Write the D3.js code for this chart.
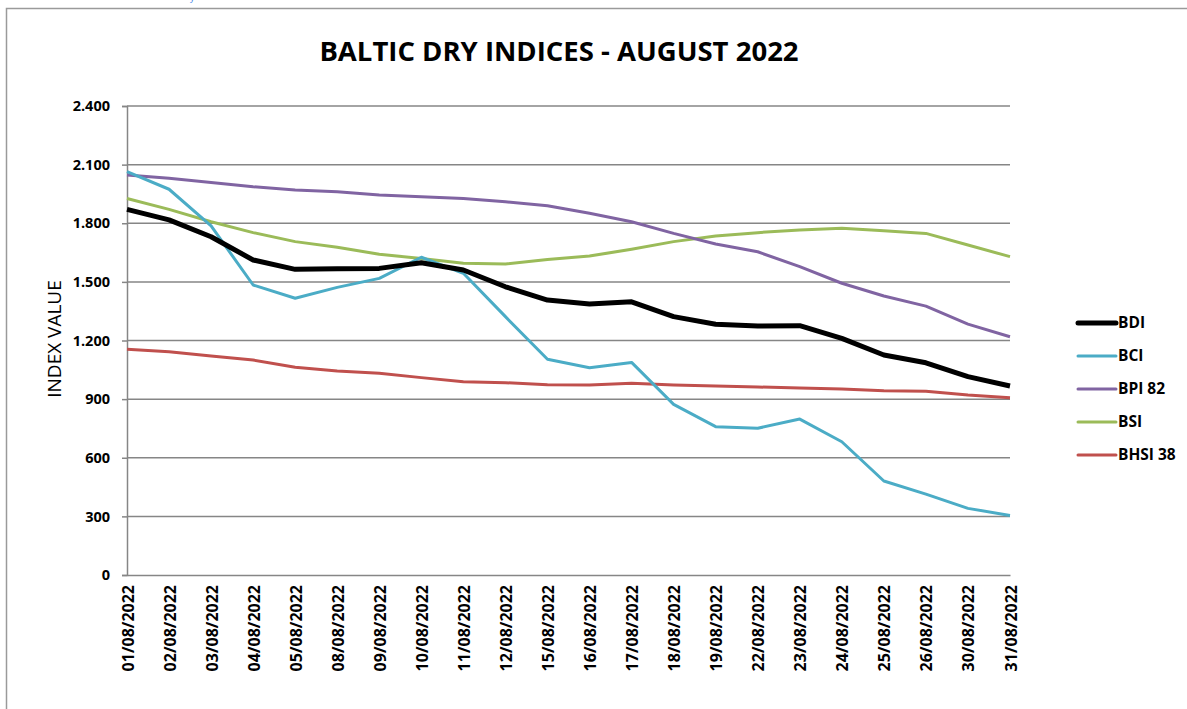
<!DOCTYPE html>
<html>
<head>
<meta charset="utf-8">
<script src="https://cdn.jsdelivr.net/npm/d3@7"></script>
<style>
  body { margin: 0; background: #fff; }
  svg { display: block; }
</style>
</head>
<body>
<div id="chart"></div>
<script>
// dates on the category axis
const dates = ["01/08/2022","02/08/2022","03/08/2022","04/08/2022","05/08/2022","08/08/2022",
  "09/08/2022","10/08/2022","11/08/2022","12/08/2022","15/08/2022","16/08/2022","17/08/2022",
  "18/08/2022","19/08/2022","22/08/2022","23/08/2022","24/08/2022","25/08/2022","26/08/2022",
  "30/08/2022","31/08/2022"];

const bdi  = [1871,1817,1731,1612,1564,1567,1569,1598,1561,1475,1407,1387,1398,1322,1283,1274,1276,1211,1126,1086,1015,967];
const bci  = [2064,1974,1786,1484,1416,1472,1518,1626,1544,1322,1104,1061,1088,873,759,751,798,682,481,414,341,305];
const bpi  = [2047,2030,2009,1987,1970,1961,1944,1936,1927,1910,1890,1851,1808,1748,1694,1654,1578,1493,1428,1376,1284,1219];
const bsi  = [1927,1871,1808,1752,1706,1677,1641,1620,1595,1591,1615,1632,1667,1706,1735,1752,1765,1774,1762,1748,1689,1629];
const bhsi = [1155,1143,1121,1100,1063,1044,1032,1010,989,984,974,972,981,972,967,962,957,952,943,940,921,907];

const yTicks = [0,300,600,900,1200,1500,1800,2100,2400];

const series = [
  { name: "BDI",     values: bdi,  color: "#000000", width: 5 },
  { name: "BCI",     values: bci,  color: "#4BACC6", width: 3 },
  { name: "BPI 82",  values: bpi,  color: "#8064A2", width: 3 },
  { name: "BSI",     values: bsi,  color: "#9BBB59", width: 3 },
  { name: "BHSI 38", values: bhsi, color: "#C0504D", width: 3 }
];

const width = 1187, height = 709;
const plotLeft = 127, plotRight = 1010, plotTop = 106, plotBottom = 575;

const svg = d3.select("#chart").append("svg")
  .attr("width", width).attr("height", height);

// outer chart frame (runs off the page right / bottom)
svg.append("rect")
  .attr("x", 6.5).attr("y", 8.5)
  .attr("width", 1300).attr("height", 800)
  .attr("fill", "none").attr("stroke", "#9a9a9a").attr("stroke-width", 1.5);

// little blue glyph peeking in at the very top
svg.append("text")
  .attr("x", 190).attr("y", 1)
  .attr("fill", "#4a86e8").style("font", "9px 'Open Sans'")
  .text("y");

const x = d3.scalePoint().domain(dates).range([plotLeft, plotRight]);
const y = d3.scaleLinear().domain([0, 2400]).range([plotBottom, plotTop]);

const fmt = d3.formatLocale({ decimal: ",", thousands: ".", grouping: [3], currency: ["", ""] }).format(",d");

// gridlines
svg.append("g")
  .selectAll("line")
  .data(yTicks.filter(d => d > 0))
  .join("line")
  .attr("x1", plotLeft).attr("x2", plotRight)
  .attr("y1", d => y(d)).attr("y2", d => y(d))
  .attr("stroke", "#868686").attr("stroke-width", 1.5);

// y axis
const yAxis = svg.append("g")
  .attr("transform", `translate(${plotLeft},0)`)
  .call(d3.axisLeft(y).tickValues(yTicks).tickFormat(fmt).tickSize(5).tickPadding(12));
yAxis.select(".domain").attr("stroke", "#868686").attr("stroke-width", 1.5);
yAxis.selectAll(".tick line").attr("stroke", "#868686").attr("stroke-width", 1.5);
yAxis.selectAll("text")
  .attr("fill", "#000")
  .style("font", "bold 14.5px 'Open Sans'");

// x axis
const xAxis = svg.append("g")
  .attr("transform", `translate(0,${plotBottom})`)
  .call(d3.axisBottom(x).tickSize(0).tickPadding(0));
xAxis.select(".domain").attr("stroke", "#868686").attr("stroke-width", 1.5);
xAxis.selectAll("text")
  .attr("fill", "#000")
  .style("font", "bold 16px 'Open Sans'")
  .attr("text-anchor", "end")
  .attr("dy", null)
  .attr("transform", "translate(6,10) rotate(-90)");

// lines
const line = d3.line()
  .x((d, i) => x(dates[i]))
  .y(d => y(d));

svg.append("g")
  .selectAll("path")
  .data(series.slice().reverse())
  .join("path")
  .attr("fill", "none")
  .attr("stroke", d => d.color)
  .attr("stroke-width", d => d.width)
  .attr("stroke-linejoin", "round")
  .attr("d", d => line(d.values));

// title
svg.append("text")
  .attr("x", 559).attr("y", 61)
  .attr("text-anchor", "middle")
  .style("font", "bold 27.5px 'Open Sans'")
  .text("BALTIC DRY INDICES - AUGUST 2022");

// y axis title
svg.append("text")
  .attr("transform", "translate(61,339) rotate(-90)")
  .attr("text-anchor", "middle")
  .style("font", "19px 'Open Sans'")
  .text("INDEX VALUE");

// legend
const legend = svg.append("g")
  .selectAll("g")
  .data(series)
  .join("g")
  .attr("transform", (d, i) => `translate(1078,${323 + i * 33})`);

legend.append("line")
  .attr("x1", 0).attr("x2", 38)
  .attr("stroke", d => d.color)
  .attr("stroke-width", d => d.width)
  .attr("stroke-linecap", "round");

legend.append("text")
  .attr("x", 40).attr("dy", "0.35em")
  .style("font", "bold 15.5px 'Open Sans'")
  .text(d => d.name);
</script>
</body>
</html>
